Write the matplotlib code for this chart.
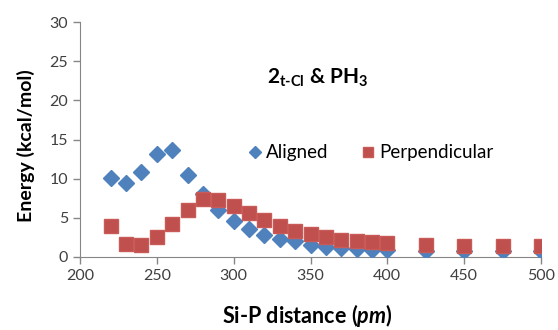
import matplotlib
matplotlib.use("Agg")
import matplotlib.pyplot as plt

plt.rcParams['font.family'] = ['Lato', 'DejaVu Sans']
plt.rcParams['mathtext.fontset'] = 'custom'
plt.rcParams['mathtext.rm'] = 'Lato:bold'
plt.rcParams['mathtext.it'] = 'Lato:bold:italic'
plt.rcParams['mathtext.bf'] = 'Lato:bold'

distance = [220, 230, 240, 250, 260, 270, 280, 290, 300, 310, 320, 330, 340,
            350, 360, 370, 380, 390, 400, 425, 450, 475, 500]
aligned = [10.1, 9.5, 10.8, 13.1, 13.7, 10.5, 8.0, 6.0, 4.6, 3.6, 2.8, 2.3, 2.0,
           1.5, 1.3, 1.15, 1.0, 0.95, 0.95, 0.8, 0.8, 0.8, 0.8]
perpendicular = [3.9, 1.7, 1.55, 2.6, 4.25, 6.0, 7.35, 7.3, 6.55, 5.6, 4.7, 3.9, 3.3,
                 2.9, 2.5, 2.2, 2.0, 1.9, 1.75, 1.55, 1.45, 1.45, 1.45]

xticks = [200, 250, 300, 350, 400, 450, 500]
yticks = [0, 5, 10, 15, 20, 25, 30]

fig = plt.figure(figsize=(5.58, 3.30), dpi=100)
ax = fig.add_axes([80/558, 1-257/330, 461/558, 235/330])

ax.plot(distance, aligned, linestyle='none', marker='D', markersize=8,
        color='#4F81BD', label='Aligned', zorder=3)
ax.plot(distance, perpendicular, linestyle='none', marker='s', markersize=9.5,
        color='#C0504D', markeredgecolor='#C85A57', label='Perpendicular', zorder=4)

ax.set_xlim(200, 500)
ax.set_ylim(0, 30)
ax.set_xticks(xticks)
ax.set_yticks(yticks)
ax.tick_params(axis='both', labelsize=11.5, length=5, width=1, colors='#404040')
ax.tick_params(axis='both', color='#868686')
for s in ['top', 'right']:
    ax.spines[s].set_visible(False)
for s in ['left', 'bottom']:
    ax.spines[s].set_color('#868686')

ax.set_xlabel(r'Si-P distance $\mathit{(pm)}$', fontsize=15.5, fontweight='bold')
ax.set_ylabel('Energy (kcal/mol)', fontsize=14, fontweight='bold')
ax.xaxis.set_label_coords(0.494, -0.247)
ax.xaxis.label.set_va('center')
ax.yaxis.set_label_coords(-0.118, 0.475)
ax.yaxis.label.set_va('center')

ax.text(0.516, 0.762, r'$2_{\text{t-Cl}}$ & PH$_3$', transform=ax.transAxes,
        ha='center', va='center', fontsize=15, fontweight='bold')

leg = ax.legend(loc='center', bbox_to_anchor=(0.628, 0.443), ncol=2, frameon=False,
                fontsize=13.5, handletextpad=0.1, columnspacing=1.6, handlelength=1.0,
                markerscale=0.8)

fig.savefig('out.png', dpi=100)
